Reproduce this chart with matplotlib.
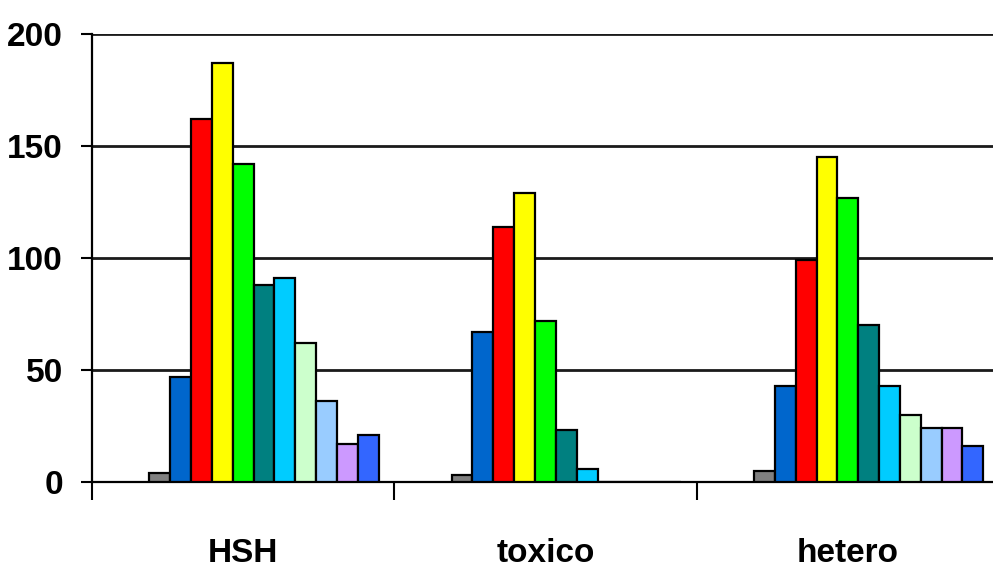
import matplotlib
matplotlib.use("Agg")
import matplotlib.pyplot as plt
from matplotlib import font_manager
import numpy as np

# counts per group, one list per series (Excel default palette order)
groups = ["HSH", "toxico", "hetero"]
s_gray = [4, 3, 5]
s_blue = [47, 67, 43]
s_red = [162, 114, 99]
s_yellow = [187, 129, 145]
s_green = [142, 72, 127]
s_teal = [88, 23, 70]
s_cyan = [91, 6, 43]
s_paleg = [62, 0, 30]
s_paleb = [36, 0, 24]
s_lilac = [17, 0, 24]
s_royal = [21, 0, 16]

series = [s_gray, s_blue, s_red, s_yellow, s_green, s_teal,
          s_cyan, s_paleg, s_paleb, s_lilac, s_royal]
colors = ["#808080", "#0066CC", "#FF0000", "#FFFF00", "#00FF00", "#008080",
          "#00CCFF", "#CCFFCC", "#99CCFF", "#CC99FF", "#3366FF"]
yticks = [0, 50, 100, 150, 200]

names = {f.name for f in font_manager.fontManager.ttflist}
narrow = "Liberation Sans Narrow" in names
FONT = "Liberation Sans Narrow" if narrow else "Liberation Sans"
FS = 28 if narrow else 24
plt.rcParams.update({"font.family": FONT, "font.weight": "bold"})

fig = plt.figure(figsize=(9.93, 5.78), dpi=100)
ax = fig.add_axes([0.0926, 0.1661, 0.9134, 0.7751])

# 13 series slots per category, gap width 150%; first two slots are empty
n_slots, first = 13, 2
w = 1.0 / (n_slots + 1.5)
centers = np.arange(len(groups)) + 0.5
for i, (vals, col) in enumerate(zip(series, colors)):
    off = (first + i - (n_slots - 1) / 2) * w
    ax.bar(centers + off, vals, w, color=col, edgecolor="black", linewidth=1.6, zorder=3)

ax.set_xlim(0, len(groups))
ax.set_ylim(0, 200)
ax.set_yticks(yticks)
ax.yaxis.grid(True, color="#1a1a1a", linewidth=2.0, zorder=1)
ax.set_axisbelow(True)

ax.set_xticks(np.arange(len(groups) + 1))
ax.set_xticklabels([])
ax.set_xticks(centers, minor=True)
ax.set_xticklabels(groups, minor=True, fontsize=FS)
ax.tick_params(axis="x", which="major", direction="out", length=13, width=1.5, color="black")
ax.tick_params(axis="x", which="minor", length=0, pad=40)
ax.tick_params(axis="y", direction="out", length=8, width=1.5, pad=13, labelsize=FS)

for s in ["top", "right"]:
    ax.spines[s].set_visible(False)
for s in ["left", "bottom"]:
    ax.spines[s].set_linewidth(1.6)
    ax.spines[s].set_color("black")

fig.savefig("out.png", dpi=100)
